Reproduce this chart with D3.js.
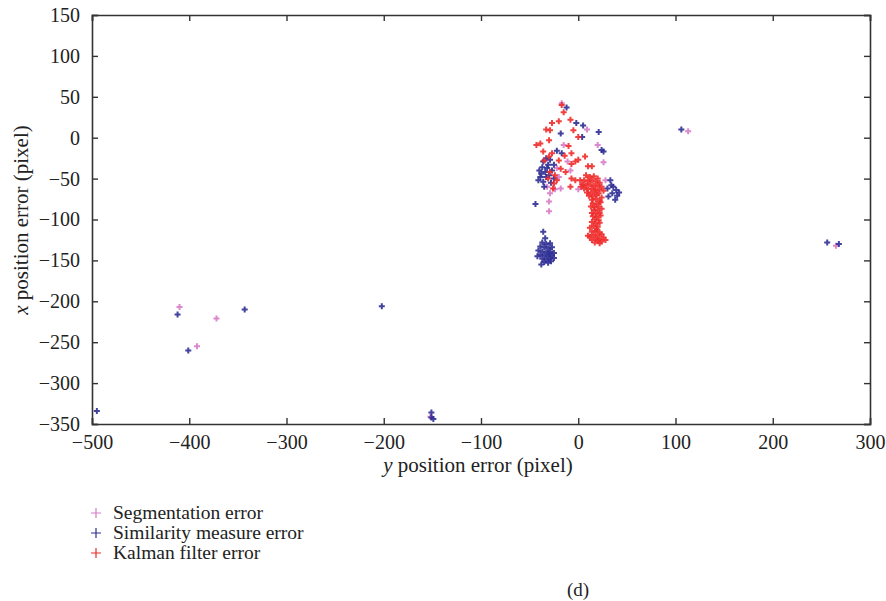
<!DOCTYPE html>
<html>
<head>
<meta charset="utf-8">
<script src="https://cdn.jsdelivr.net/npm/d3@7"></script>
<style>
  body { margin: 0; background: #fff; }
  svg text { font-family: 'Liberation Serif', 'Times New Roman', serif; fill: #222; }
</style>
</head>
<body>
<svg id="chart" width="886" height="601"></svg>
<script>
// tick values
var xTicks = [-500, -400, -300, -200, -100, 0, 100, 200, 300];
var yTicks = [150, 100, 50, 0, -50, -100, -150, -200, -250, -300, -350];

// series names + colours
var seriesNames = ['Segmentation error', 'Similarity measure error', 'Kalman filter error'];
var seriesColors = ['#d77cc6', '#2e2d95', '#ee2b2b'];

// Segmentation error points [y error, x error]
var segPts = [
    [-17, 42], [9, 10], [20, -9], [26, -30], [-15, -9], [-11, -29], [-22, -37],
    [-18, -62], [-24, -63], [0, -63], [-29, -68], [-32, -60], [-30, -78], [-30, -90],
    [28, -52], [-8, -40], [5, -58], [-20, -48],
    [-410, -207], [-372, -221], [-392, -255], [-152, -341], [265, -132], [113, 8]
];

// Similarity measure error points
var simPts = [
    [-12, 37], [-2, 18], [5, 15], [-18, 5], [21, 7], [4, 1], [26, -17], [24, -15],
    [-22, -16], [-17, -19],
    [-36, -29], [-31, -33], [-27, -40], [-34, -42], [-39, -48], [-41, -52], [-36, -54],
    [-30, -46], [-25, -50], [-32, -37], [-37, -36], [-25, -33], [-38, -44], [-33, -48],
    [-28, -55], [-35, -60], [-40, -40], [-29, -27], [-33, -25], [-44, -81],
    [33, -52], [36, -60], [39, -64], [35, -68], [31, -72], [40, -71], [38, -76],
    [34, -58], [42, -67], [30, -62],
    [-36, -115], [-34, -123], [-37, -128], [-33, -130], [-29, -129], [-39, -133],
    [-35, -134], [-31, -135], [-27, -134], [-41, -138], [-37, -139], [-33, -140],
    [-29, -139], [-25, -141], [-39, -143], [-35, -144], [-31, -145], [-27, -144],
    [-37, -148], [-33, -149], [-29, -148], [-25, -147], [-35, -152], [-31, -153],
    [-38, -155], [-28, -151], [-42, -145], [-30, -142],
    [-495, -334], [-412, -216], [-401, -260], [-343, -210], [-202, -206],
    [-151, -336], [-151, -342], [-149, -344], [256, -128], [268, -130], [106, 10]
];

// Kalman filter error points
var kalPts = [
    [8, -46], [12, -48], [16, -47], [20, -50], [6, -52], [10, -53], [14, -52], [18, -54],
    [22, -55], [4, -57], [8, -58], [12, -57], [16, -59], [20, -58], [24, -60], [6, -62],
    [10, -63], [14, -62], [18, -64], [22, -63], [9, -67], [13, -68], [17, -66], [21, -68],
    [11, -71], [15, -72], [19, -70], [24, -73], [3, -60], [26, -65],
    [14, -76], [18, -75], [22, -77], [15, -80], [19, -81], [23, -79], [13, -84], [17, -85],
    [21, -84], [16, -88], [20, -89], [24, -87], [14, -92], [18, -93], [22, -92], [15, -96],
    [19, -97], [23, -95], [17, -100], [21, -101], [14, -103], [18, -105], [22, -104],
    [16, -108], [20, -109], [12, -110], [19, -112],
    [14, -115], [18, -114], [22, -116], [16, -119], [20, -120], [24, -118], [12, -121],
    [18, -123], [22, -124], [26, -122], [14, -125], [20, -126], [24, -127], [28, -125],
    [17, -128], [22, -129], [10, -120],
    [-15, 31], [-27, 18], [-20, 20], [-29, 9], [-33, 10], [-5, 9], [0, 1], [-39, -7],
    [-43, -9], [-30, -3], [-36, -17], [-27, -19], [-30, -23], [-7, -19], [0, -27],
    [7, -23], [10, -35], [14, -35], [-7, -32], [-3, -29], [-29, -42], [-24, -46],
    [-31, -50], [-22, -52], [-25, -56], [-13, -42], [-7, -50], [-8, -60], [-3, -52],
    [2, -52], [-17, 40], [-20, -28], [-14, -22], [-10, -10], [-8, 22], [-35, -28],
    [-18, -38], [-26, -62]
];

var svg = d3.select('#chart');
var m = {left: 92, right: 870, top: 15, bottom: 424};
var serif = "'Liberation Serif', 'Times New Roman', serif";

var x = d3.scaleLinear().domain([-500, 300]).range([m.left, m.right]);
var y = d3.scaleLinear().domain([-350, 150]).range([m.bottom, m.top]);

var fmt = d3.format('');

// axes: ticks point inward, box all round
var tk = 6;
svg.append('g').attr('transform', 'translate(0,' + m.bottom + ')')
    .call(d3.axisBottom(x).tickValues(xTicks).tickSize(-tk).tickPadding(11).tickFormat(fmt));
svg.append('g').attr('transform', 'translate(0,' + m.top + ')')
    .call(d3.axisTop(x).tickValues(xTicks).tickSize(-tk).tickFormat(''));
svg.append('g').attr('transform', 'translate(' + m.left + ',0)')
    .call(d3.axisLeft(y).tickValues(yTicks).tickSize(-tk).tickPadding(12).tickFormat(fmt));
svg.append('g').attr('transform', 'translate(' + m.right + ',0)')
    .call(d3.axisRight(y).tickValues(yTicks).tickSize(-tk).tickFormat(''));

svg.selectAll('g').attr('font-family', serif);
svg.selectAll('.domain').attr('stroke', '#333').attr('stroke-width', 1.6);
svg.selectAll('.tick line').attr('stroke', '#333').attr('stroke-width', 1.4);
svg.selectAll('.tick text').attr('font-size', 20).attr('fill', '#222');

// points
var plus = 'M-3,0H3M0,-3V3';
var allSeries = [segPts, simPts, kalPts];
allSeries.forEach(function(pts, i) {
    svg.append('g').selectAll('path')
        .data(pts)
        .enter()
        .append('path')
        .attr('d', plus)
        .attr('transform', function(d) { return 'translate(' + x(d[0]) + ',' + y(d[1]) + ')'; })
        .attr('stroke', seriesColors[i])
        .attr('stroke-width', 2)
        .attr('stroke-opacity', 0.9)
        .attr('fill', 'none');
});

// axis titles
var xt = svg.append('text').attr('x', 478).attr('y', 472)
    .attr('text-anchor', 'middle').attr('font-size', 21);
xt.append('tspan').attr('font-style', 'italic').text('y');
xt.append('tspan').text(' position error (pixel)');

var yt = svg.append('text').attr('transform', 'translate(28,220) rotate(-90)')
    .attr('text-anchor', 'middle').attr('font-size', 21);
yt.append('tspan').attr('font-style', 'italic').text('x');
yt.append('tspan').text(' position error (pixel)');

// legend
var leg = svg.append('g');
seriesNames.forEach(function(name, i) {
    var ly = 513 + i * 20;
    leg.append('path').attr('d', 'M-5,0H5M0,-5V5')
        .attr('transform', 'translate(96,' + ly + ')')
        .attr('stroke', seriesColors[i]).attr('stroke-width', 1.2);
    leg.append('text').attr('x', 113).attr('y', ly + 6)
        .attr('font-size', 19.5).text(name);
});

svg.append('text').attr('x', 578).attr('y', 596)
    .attr('text-anchor', 'middle').attr('font-size', 19).text('(d)');
</script>
</body>
</html>
